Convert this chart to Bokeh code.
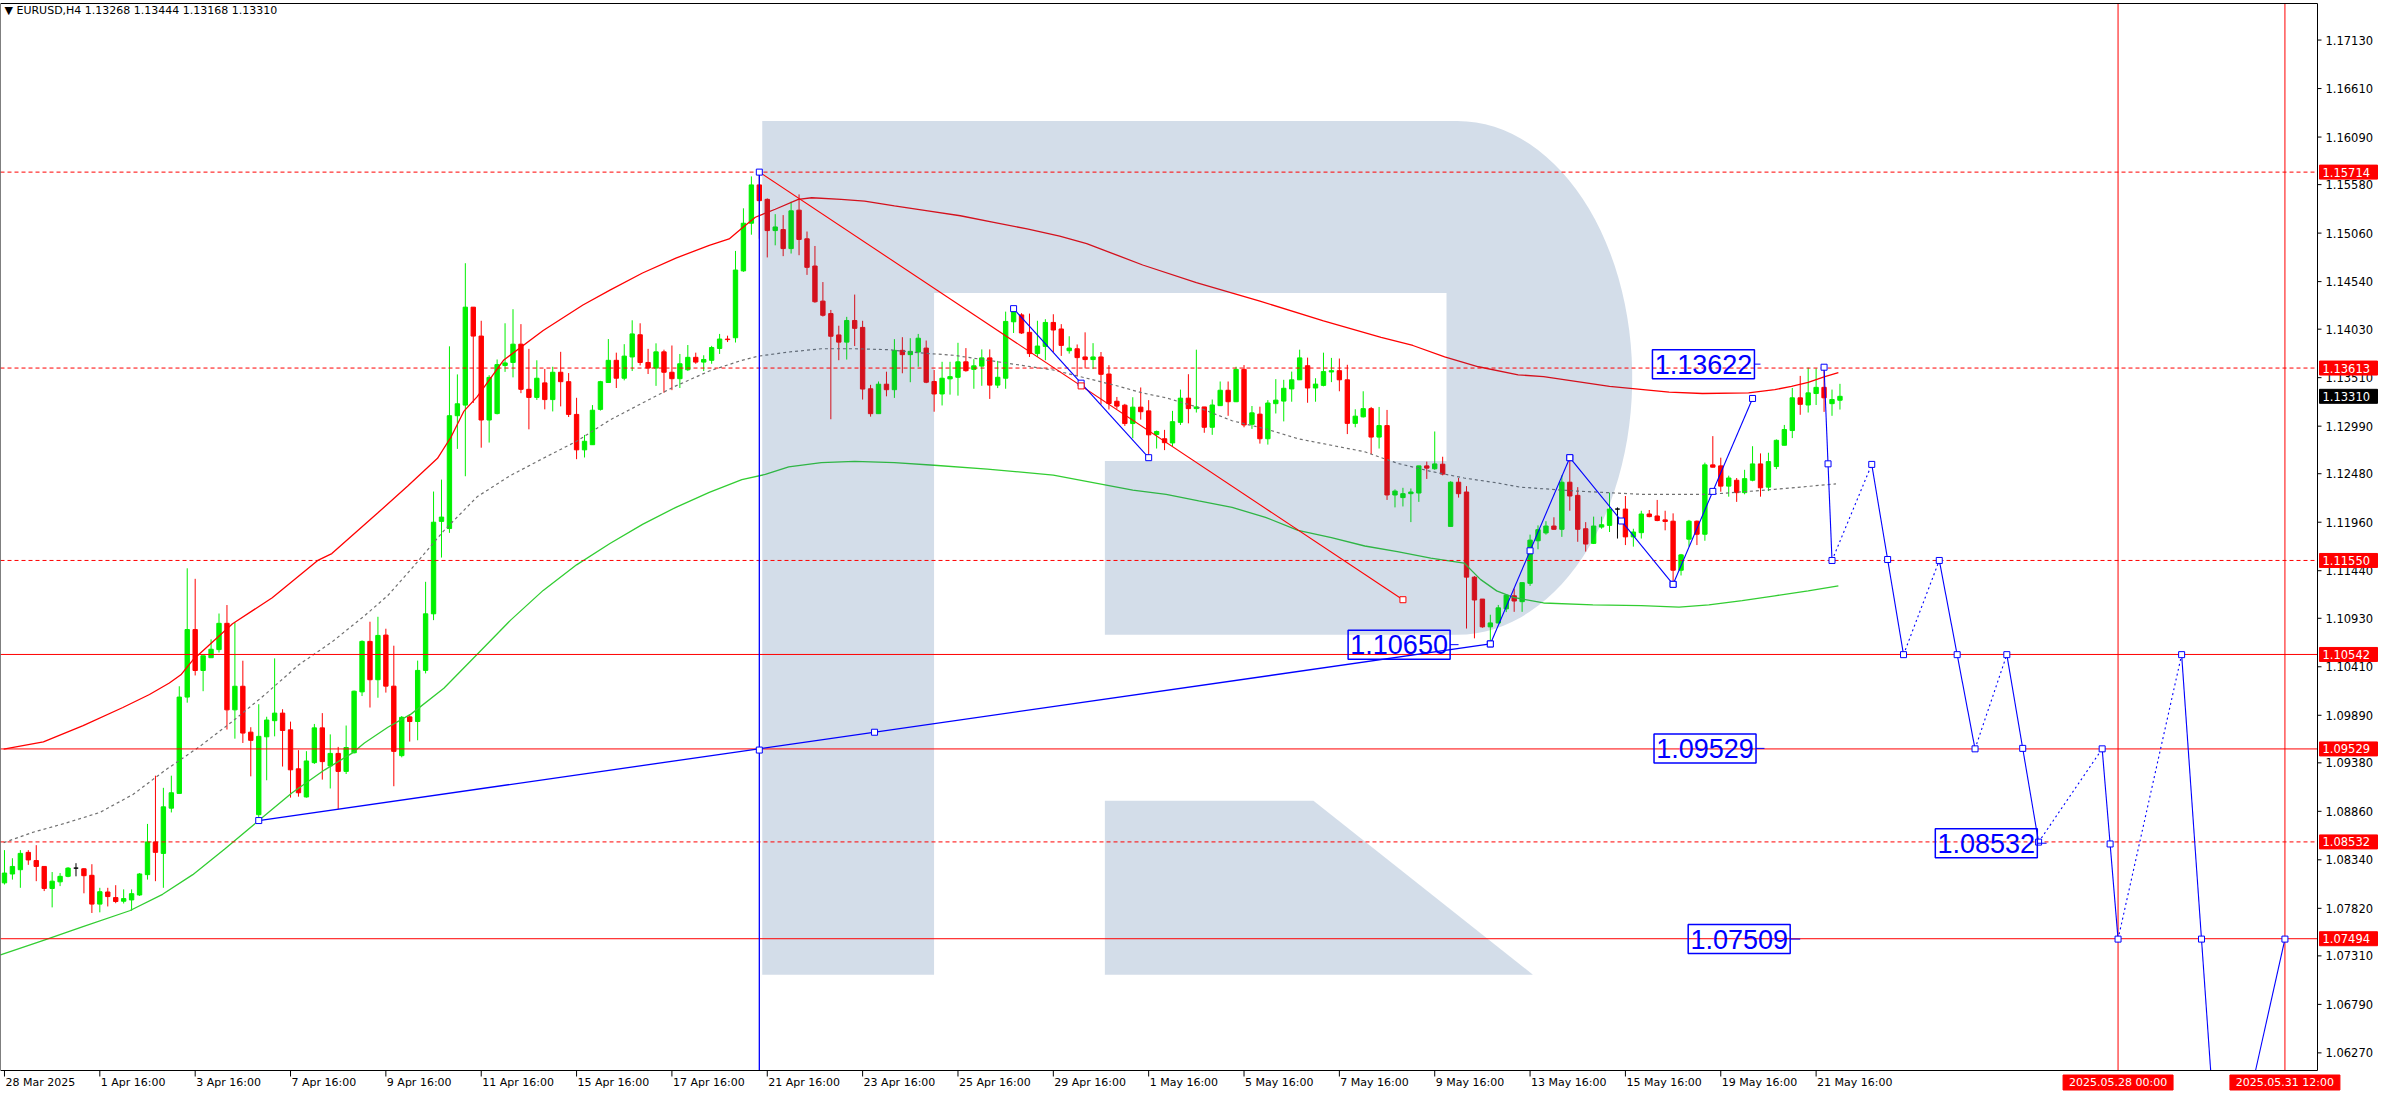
import numpy as np
from bokeh.plotting import figure
from bokeh.models import Range1d, ColumnDataSource
from bokeh.core.properties import value
from bokeh.embed import file_html
from bokeh.resources import INLINE

# ---------------- data (EURUSD H4) ----------------
bar_open = [1.08093,1.08188,1.08234,1.08420,1.08332,1.08269,1.08033,1.08104,1.08163,1.08251,
1.08244,1.08174,1.07865,1.07995,1.07935,1.07896,1.07910,1.07963,1.08181,1.08532,
1.08409,1.08894,1.09052,1.10085,1.10809,1.10370,1.10507,1.10594,1.10876,1.09948,
1.10201,1.09709,1.08824,1.09659,1.09832,1.09913,1.09734,1.09316,1.09014,1.09382,
1.09755,1.09347,1.09481,1.09288,1.09488,1.10141,1.10682,1.10271,1.10750,1.10202,
1.09457,1.09873,1.09823,1.10371,1.10978,1.11969,1.11892,1.13102,1.13216,1.14266,
1.13956,1.13056,1.13125,1.13641,1.13673,1.13869,1.13385,1.13298,1.13454,1.13275,
1.13568,1.13467,1.13116,1.12736,1.12791,1.13170,1.13458,1.13696,1.13504,1.13732,
1.13970,1.13673,1.13613,1.13787,1.13568,1.13499,1.13595,1.13728,1.13677,1.13696,
1.13823,1.13924,1.13938,1.14655,1.15166,1.15577,1.15422,1.15087,1.15098,1.14894,
1.15306,1.14999,1.14707,1.14331,1.14197,1.13968,1.13891,1.14123,1.14049,1.13391,
1.13124,1.13440,1.13381,1.13803,1.13757,1.13785,1.13827,1.13469,1.13335,1.13497,
1.13514,1.13680,1.13599,1.13634,1.13722,1.13430,1.13504,1.14109,1.14183,1.13996,
1.13768,1.13845,1.14102,1.14032,1.13799,1.13820,1.13732,1.13704,1.13732,1.13549,
1.13257,1.13215,1.13018,1.13194,1.13154,1.12901,1.12855,1.12810,1.13031,1.13290,
1.13178,1.13196,1.12978,1.13210,1.13375,1.13252,1.13599,1.13010,1.13119,1.12855,
1.13231,1.13259,1.13389,1.13487,1.13638,1.13399,1.13427,1.13571,1.13585,1.13487,
1.13020,1.13090,1.13178,1.12873,1.12996,1.12252,1.12224,1.12266,1.12273,1.12564,
1.12533,1.12582,1.11915,1.12389,1.12284,1.11371,1.11136,1.10838,1.10880,1.11031,
1.11171,1.11108,1.11305,1.11761,1.11845,1.11919,1.11884,1.12389,1.12248,1.11890,
1.11733,1.11908,1.11926,1.12101,1.12101,1.11803,1.11848,1.12048,1.12027,1.11985,
1.11971,1.11445,1.11778,1.11971,1.11831,1.12575,1.12564,1.12347,1.12410,1.12277,
1.12410,1.12585,1.12336,1.12557,1.12785,1.12943,1.13294,1.13217,1.13340,1.13406,
1.13231,1.13268]
bar_high = [1.08444,1.08357,1.08444,1.08444,1.08497,1.08269,1.08209,1.08198,1.08262,1.08304,
1.08251,1.08293,1.08040,1.08040,1.08068,1.08023,1.08023,1.08198,1.08725,1.09242,
1.09112,1.09242,1.10201,1.11466,1.11353,1.10528,1.10704,1.10981,1.11072,1.10886,
1.10475,1.09762,1.10008,1.09874,1.10500,1.09955,1.09822,1.09516,1.09505,1.09797,
1.09913,1.09685,1.09551,1.09780,1.10155,1.10693,1.10893,1.10946,1.10818,1.10636,
1.09882,1.09896,1.10476,1.11321,1.12289,1.12417,1.13846,1.13545,1.14737,1.14266,
1.14120,1.13536,1.13705,1.14093,1.14244,1.14084,1.13819,1.13696,1.13604,1.13627,
1.13787,1.13559,1.13294,1.12896,1.13216,1.13476,1.13924,1.13778,1.13869,1.14125,
1.14093,1.13819,1.13878,1.13810,1.13855,1.13764,1.13860,1.13778,1.13750,1.13851,
1.13979,1.13960,1.14869,1.15326,1.15668,1.15714,1.15432,1.15263,1.15253,1.15397,
1.15475,1.15077,1.14922,1.14535,1.14236,1.14067,1.14162,1.14401,1.14120,1.13433,
1.13469,1.13574,1.13923,1.13944,1.13933,1.13979,1.13908,1.13592,1.13680,1.13680,
1.13884,1.13827,1.13708,1.13813,1.13813,1.13690,1.14218,1.14250,1.14201,1.14197,
1.14120,1.14137,1.14190,1.14084,1.13954,1.13866,1.13996,1.13880,1.13785,1.13644,
1.13303,1.13229,1.13300,1.13405,1.13269,1.12943,1.12950,1.13154,1.13382,1.13547,
1.13810,1.13196,1.13276,1.13469,1.13469,1.13627,1.13645,1.13206,1.13199,1.13269,
1.13494,1.13487,1.13575,1.13810,1.13725,1.13504,1.13778,1.13722,1.13715,1.13648,
1.13171,1.13364,1.13196,1.13196,1.13164,1.12312,1.12329,1.12322,1.12564,1.12610,
1.12933,1.12662,1.12399,1.12434,1.12347,1.11382,1.11136,1.10968,1.11073,1.11182,
1.11249,1.11312,1.11827,1.11926,1.11971,1.12013,1.12462,1.12652,1.12336,1.11961,
1.12020,1.12020,1.12277,1.12119,1.12241,1.11890,1.12083,1.12091,1.12199,1.12083,
1.12055,1.11620,1.11985,1.11978,1.12599,1.12883,1.12652,1.12459,1.12434,1.12522,
1.12775,1.12698,1.12705,1.12848,1.13003,1.13399,1.13529,1.13617,1.13610,1.13622,
1.13382,1.13444]
bar_low = [1.08075,1.08128,1.08040,1.08286,1.08111,1.08005,1.07830,1.08058,1.08153,1.08163,
1.07981,1.07770,1.07777,1.07840,1.07875,1.07872,1.07794,1.07953,1.08128,1.08111,
1.08040,1.08848,1.09052,1.10025,1.10317,1.10148,1.10507,1.10563,1.09737,1.09639,
1.09593,1.09235,1.08761,1.09193,1.09664,1.09340,1.09007,1.09017,1.09007,1.09368,
1.09200,1.09105,1.08884,1.09260,1.09481,1.10096,1.09973,1.10078,1.10133,1.09129,
1.09439,1.09608,1.09622,1.10339,1.10910,1.11581,1.11846,1.12746,1.12453,1.13239,
1.12759,1.12814,1.13116,1.13572,1.13513,1.13344,1.12956,1.13271,1.13170,1.13148,
1.13202,1.13088,1.12636,1.12654,1.12791,1.13157,1.13458,1.13399,1.13481,1.13581,
1.13641,1.13549,1.13422,1.13348,1.13376,1.13399,1.13581,1.13659,1.13581,1.13659,
1.13764,1.13892,1.13887,1.14645,1.15043,1.15000,1.14799,1.14929,1.14813,1.14841,
1.14823,1.14612,1.14313,1.14165,1.13064,1.13697,1.13704,1.13849,1.13275,1.13092,
1.13124,1.13310,1.13293,1.13557,1.13461,1.13627,1.13451,1.13145,1.13212,1.13328,
1.13317,1.13574,1.13391,1.13423,1.13282,1.13398,1.13391,1.13989,1.13979,1.13732,
1.13732,1.13697,1.13785,1.13743,1.13768,1.13528,1.13609,1.13602,1.13222,1.13169,
1.13176,1.12993,1.12860,1.13060,1.12652,1.12750,1.12733,1.12775,1.13003,1.13020,
1.13136,1.12919,1.12897,1.13206,1.13101,1.13248,1.12978,1.12961,1.12803,1.12792,
1.13126,1.13041,1.13252,1.13487,1.13241,1.13252,1.13417,1.13462,1.13364,1.12905,
1.12978,1.13083,1.12690,1.12750,1.12199,1.12119,1.12129,1.11961,1.12178,1.12424,
1.12522,1.12462,1.11915,1.12224,1.10820,1.10715,1.10828,1.10655,1.10873,1.10996,
1.10999,1.10999,1.11277,1.11670,1.11827,1.11880,1.11803,1.12083,1.11750,1.11645,
1.11726,1.11890,1.11855,1.11785,1.11715,1.11698,1.11785,1.12013,1.11971,1.11873,
1.11329,1.11389,1.11698,1.11715,1.11761,1.12547,1.12287,1.12234,1.12178,1.12259,
1.12399,1.12234,1.12294,1.12529,1.12785,1.12862,1.13112,1.13136,1.13217,1.13143,
1.13101,1.13168]
bar_close = [1.08198,1.08269,1.08409,1.08339,1.08269,1.08033,1.08111,1.08163,1.08251,1.08251,
1.08170,1.07865,1.07998,1.07946,1.07893,1.07924,1.07977,1.08188,1.08532,1.08420,
1.08908,1.09059,1.10085,1.10809,1.10370,1.10528,1.10598,1.10876,1.09948,1.10201,
1.09699,1.09621,1.09664,1.09839,1.09913,1.09727,1.09305,1.09059,1.09400,1.09755,
1.09393,1.09481,1.09288,1.09544,1.10148,1.10682,1.10271,1.10746,1.10202,1.09503,
1.09868,1.09823,1.10371,1.10978,1.11960,1.12015,1.13102,1.13230,1.14266,1.13956,
1.13056,1.13513,1.13650,1.13668,1.13869,1.13385,1.13298,1.13504,1.13275,1.13568,
1.13467,1.13116,1.12736,1.12828,1.13161,1.13467,1.13696,1.13504,1.13741,1.13979,
1.13673,1.13613,1.13787,1.13568,1.13499,1.13659,1.13728,1.13677,1.13705,1.13833,
1.13924,1.13918,1.14664,1.15166,1.15577,1.15408,1.15087,1.15126,1.14894,1.15299,
1.14992,1.14693,1.14324,1.14179,1.13954,1.13891,1.14123,1.14039,1.13388,1.13124,
1.13440,1.13381,1.13803,1.13757,1.13792,1.13933,1.13461,1.13335,1.13504,1.13521,
1.13680,1.13585,1.13637,1.13722,1.13430,1.13514,1.14113,1.14232,1.13989,1.13768,
1.13849,1.14102,1.14021,1.13856,1.13827,1.13725,1.13704,1.13732,1.13546,1.13233,
1.13205,1.13018,1.13194,1.13145,1.12897,1.12933,1.12813,1.13038,1.13290,1.13178,
1.13196,1.12978,1.13217,1.13375,1.13252,1.13599,1.13003,1.13133,1.12855,1.13238,
1.13269,1.13396,1.13487,1.13722,1.13399,1.13441,1.13575,1.13585,1.13487,1.13020,
1.13097,1.13178,1.12873,1.12996,1.12252,1.12294,1.12266,1.12284,1.12564,1.12540,
1.12585,1.12476,1.12389,1.12266,1.11371,1.11126,1.10838,1.10880,1.11042,1.11178,
1.11115,1.11312,1.11768,1.11880,1.11919,1.11884,1.12389,1.12241,1.11884,1.11726,
1.11919,1.11933,1.12101,1.12101,1.11803,1.11855,1.12048,1.12020,1.11978,1.11968,
1.11445,1.11610,1.11971,1.11831,1.12575,1.12550,1.12347,1.12434,1.12277,1.12427,
1.12585,1.12329,1.12610,1.12838,1.12954,1.13294,1.13224,1.13347,1.13406,1.13294,
1.13276,1.13310]

time_labels = ["28 Mar 2025", "1 Apr 16:00", "3 Apr 16:00", "7 Apr 16:00", "9 Apr 16:00",
               "11 Apr 16:00", "15 Apr 16:00", "17 Apr 16:00", "21 Apr 16:00", "23 Apr 16:00",
               "25 Apr 16:00", "29 Apr 16:00", "1 May 16:00", "5 May 16:00", "7 May 16:00",
               "9 May 16:00", "13 May 16:00", "15 May 16:00", "19 May 16:00", "21 May 16:00"]
time_label_bars = [12 * k for k in range(len(time_labels))]

price_ticks = [1.17130, 1.16610, 1.16090, 1.15580, 1.15060, 1.14540, 1.14030, 1.13510,
               1.12990, 1.12480, 1.11960, 1.11440, 1.10930, 1.10410, 1.09890, 1.09380,
               1.08860, 1.08340, 1.07820, 1.07310, 1.06790, 1.06270]

# indicator lines
red_ma_x = [-0.1,4.9,9.9,14.9,18.25,20.75,22.2,23.7,28.7,33.7,39.5,41.2,47,50.75,54.5,56.2,57.8,59.5,
            62.8,67.8,72.8,76.2,80.3,84.5,88.7,91.2,92.8,94.5,97,99.9,101.6,105.3,108.25,112,116.2,
            120.3,124.5,128.7,132.8,136.2,139.5,143.25,150,158,166,173.25,177.25,181.25,185.5,190.5,
            193.7,202,209.5,213.7,219.5,222.8,224.9,227,229.1,230.8]
red_ma_y = [1.09527,1.09604,1.09779,1.09973,1.10113,1.10236,1.10324,1.10482,1.10871,1.11150,1.11554,
            1.11624,1.12061,1.12348,1.12645,1.12874,1.13148,1.13307,1.13696,1.14015,1.14289,1.14449,
            1.14632,1.14792,1.14929,1.14997,1.15111,1.15230,1.15316,1.15422,1.15439,1.15422,1.15404,
            1.15351,1.15299,1.15246,1.15175,1.15105,1.15027,1.14947,1.14841,1.14718,1.1453,1.1433,
            1.1412,1.13943,1.13855,1.13733,1.13627,1.13540,1.13522,1.13417,1.13354,1.13340,1.13347,
            1.13382,1.13417,1.13459,1.13522,1.13564]
mid_ma_x = [-0.1,3.7,7.8,12,16.2,20.3,24.5,28.7,32.8,37,41.2,45.3,48.25,51.2,55.3,59.5,63.7,67.8,72,
            76.2,80.3,84.5,88.7,92.8,94.9,98.7,102.8,107,111.2,115.3,119.5,123.7,127.8,132,136.2,
            140.3,143.25,146.2,150.3,154.5,158.7,162.8,167,171.2,175.3,179.5,183.7,187.8,190.75,
            197.8,206,214.5,222.8,230.5]
mid_ma_y = [1.08525,1.08638,1.08736,1.08848,1.09042,1.09305,1.09551,1.09825,1.10113,1.10429,1.10675,
            1.10956,1.11174,1.11458,1.11869,1.12234,1.12462,1.12645,1.12828,1.13056,1.13239,1.13422,
            1.13581,1.13696,1.13741,1.13785,1.13820,1.13820,1.13810,1.13775,1.13750,1.13697,1.13645,
            1.13592,1.13504,1.13416,1.13345,1.13294,1.13189,1.13048,1.12961,1.12855,1.12785,1.12715,
            1.12592,1.12505,1.12434,1.12382,1.12336,1.12294,1.12259,1.12259,1.12312,1.12371]
green_ma_x = [-0.5,5,9.7,15.75,19.9,23.7,27.8,32,36.2,40.3,43.7,45.3,48.25,51.2,55.3,59.5,63.7,67.8,
              72,76.2,80.3,84.5,88.7,92.8,95.75,98.7,102.8,107,112,117,123.7,132,142,146.2,150.3,
              154.5,158.7,162.8,167,171.2,175.3,179.5,183.7,185.75,187.8,189.9,193.7,199.9,206,
              210.75,214.5,218.7,222.8,227,230.8]
green_ma_y = [1.0732,1.0748,1.07619,1.07794,1.07970,1.08181,1.08462,1.08761,1.09059,1.09305,1.09481,
              1.09593,1.09762,1.09905,1.10179,1.10544,1.10910,1.11229,1.11503,1.11732,1.11937,
              1.12120,1.12280,1.12417,1.12472,1.12554,1.12599,1.12613,1.12599,1.12571,1.12529,
              1.12466,1.12305,1.12259,1.12189,1.12119,1.12013,1.11873,1.11796,1.11705,1.11645,
              1.11575,1.11522,1.11347,1.11224,1.11154,1.11094,1.11073,1.11066,1.11049,1.11073,
              1.11119,1.11171,1.11224,1.11277]

# horizontal levels
levels_dashed = [1.15714, 1.13613, 1.11550, 1.08532]
levels_solid = [1.10542, 1.09529, 1.07494]
last_price = 1.13310

# drawn trend lines (bar index, price)
blue_trend_x, blue_trend_y = [32, 187], [1.08761, 1.10655]
red_trend_x, red_trend_y = [95, 176], [1.15714, 1.11129]
blue_vert_x, blue_vert_y = [95, 95], [1.15714, 1.03320]
blue_short_x, blue_short_y = [127, 144], [1.14250, 1.12652]
old_path_x = [187, 197, 210, 220]
old_path_y = [1.10655, 1.12652, 1.11294, 1.13287]

# forecast path
fc_x = [229, 230, 235, 239, 243.5, 248, 252, 256, 264, 266, 274, 279, 287]
fc_y = [1.13622, 1.1155, 1.1258, 1.1054, 1.1155, 1.0953, 1.1054, 1.0853, 1.0953, 1.0749, 1.1054, 1.0444, 1.0749]
fc_solid = [True, False, True, False, True, False, True, False, True, False, True, True]

# price tags on chart
tag_text = ["1.13622", "1.10650", "1.09529", "1.08532", "1.07509"]
tag_left = [207.4, 169.1, 207.6, 243.0, 211.9]
tag_y = [1.13655, 1.10647, 1.09535, 1.08518, 1.07490]
tag_tip = [221.0, 183.0, 221.5, 257.0, 226.0]

vline_bars = [266, 287]
vline_text = ["2025.05.28 00:00", "2025.05.31 12:00"]

# ---------------- layout ----------------
X0, X1 = -0.5, 291.1          # chart area in bars
Y0, Y1 = 1.06081, 1.17522     # chart area in price
W, H = 2380, 1094
TOP, RIGHT_W, BOTTOM_H = 3, 63, 24
CW = W - RIGHT_W
CH = H - TOP - BOTTOM_H
ppb = CW / (X1 - X0)          # pixels per bar
ppp = (Y1 - Y0) / CH          # price per pixel
def dxp(px):
    return px / ppb
def dyp(px):
    return px * ppp

p = figure(width=W, height=H,
           x_range=Range1d(X0, X1 + dxp(RIGHT_W)),
           y_range=Range1d(Y0 - dyp(BOTTOM_H), Y1 + dyp(TOP)),
           output_backend="svg", toolbar_location=None,
           x_axis_location=None, y_axis_location=None,
           min_border=0, background_fill_color="white", border_fill_color="white")
p.xgrid.visible = False
p.ygrid.visible = False
p.outline_line_color = None

FONT = "DejaVu Sans"
GREEN, RED, BLUE = "#00F000", "#FF0000", "#0000FF"

# candles
idx = list(range(len(bar_open)))
col = [GREEN if c > o else (RED if c < o else "black") for o, c in zip(bar_open, bar_close)]
src = ColumnDataSource(dict(x=idx, h=bar_high, l=bar_low,
                            top=[max(o, c) for o, c in zip(bar_open, bar_close)],
                            bot=[min(o, c) for o, c in zip(bar_open, bar_close)], col=col))
p.segment(x0="x", y0="l", x1="x", y1="h", line_color="col", line_width=1, source=src)
p.vbar(x="x", width=0.55, top="top", bottom="bot", fill_color="col", line_color="col",
       line_width=1, source=src)

# indicator lines
p.line(red_ma_x, red_ma_y, line_color=RED, line_width=1.3)
p.line(mid_ma_x, mid_ma_y, line_color="#707070", line_width=1.2, line_dash="3 3")
p.line(green_ma_x, green_ma_y, line_color="#32CD32", line_width=1.3)

# watermark "R" (proportions of the chart area)
REFW, REFH = 2333.0, 1080.0
def rp(x, y):
    return X0 + x / REFW * (X1 - X0), Y1 - (y - 3) / REFH * (Y1 - Y0)
ang = np.linspace(-np.pi / 2, np.pi / 2, 60)
outer = [(767, 122)] + [(1467 + 176 * np.cos(a), 382 + 260 * np.sin(a)) for a in ang] + \
        [(1112, 642), (1112, 466), (1456, 466), (1456, 296), (940, 296), (940, 986), (767, 986)]
leg = [(1112, 810), (1322, 810), (1543, 986), (1112, 986)]
for poly in (outer, leg):
    xs, ys = zip(*[rp(a, b) for a, b in poly])
    p.patch(list(xs), list(ys), fill_color="#235591", fill_alpha=0.2, line_alpha=0)

# horizontal / vertical levels
p.segment(x0=[X0] * len(levels_dashed), x1=[X1] * len(levels_dashed), y0=levels_dashed, y1=levels_dashed,
          line_color=RED, line_width=1, line_dash="4 3")
p.segment(x0=[X0] * len(levels_solid), x1=[X1] * len(levels_solid), y0=levels_solid, y1=levels_solid,
          line_color=RED, line_width=1)
p.segment(x0=vline_bars, x1=vline_bars, y0=[Y0] * 2, y1=[Y1] * 2, line_color=RED, line_width=1)

# clip a segment to the chart's price span
def clip(xa, ya, xb, yb):
    t0, t1 = 0.0, 1.0
    dyv = yb - ya
    for lim, sgn in ((Y0, 1), (Y1, -1)):
        if dyv == 0:
            continue
        t = (lim - ya) / dyv
        if sgn * dyv > 0:
            t0 = max(t0, t)
        else:
            t1 = min(t1, t)
    if t0 >= t1:
        return None
    return [xa + t0 * (xb - xa), xa + t1 * (xb - xa)], [ya + t0 * dyv, ya + t1 * dyv]

def draw_path(xs, ys, color, width=1.1, dashes=None):
    for k in range(len(xs) - 1):
        c = clip(xs[k], ys[k], xs[k + 1], ys[k + 1])
        if c is None:
            continue
        dash = "solid" if dashes is None or dashes[k] else "2 3"
        p.line(c[0], c[1], line_color=color, line_width=width, line_dash=dash)

draw_path(blue_trend_x, blue_trend_y, BLUE, 1.3)
draw_path(blue_vert_x, blue_vert_y, BLUE, 1.3)
draw_path(red_trend_x, red_trend_y, RED, 1.1)
draw_path(blue_short_x, blue_short_y, BLUE, 1.1)
draw_path(old_path_x, old_path_y, BLUE, 1.1)
draw_path(fc_x, fc_y, BLUE, 1.1, fc_solid)

# selection squares: ends and midpoints of segments
def squares(xs, ys):
    sx, sy = [], []
    for k in range(len(xs) - 1):
        for t in (0.0, 0.5, 1.0):
            yy = ys[k] + t * (ys[k + 1] - ys[k])
            if Y0 <= yy <= Y1:
                sx.append(xs[k] + t * (xs[k + 1] - xs[k]))
                sy.append(yy)
    return sx, sy
bsx, bsy = [], []
for xs, ys in [(blue_trend_x, blue_trend_y), (blue_vert_x, blue_vert_y),
               (blue_short_x, blue_short_y), (old_path_x, old_path_y)]:
    a, b = squares(xs, ys)
    bsx += a
    bsy += b
for k in range(len(fc_x) - 1):
    if fc_solid[k]:
        a, b = squares(fc_x[k:k + 2], fc_y[k:k + 2])
        bsx += a
        bsy += b
p.scatter(bsx, bsy, marker="square", size=6, line_color=BLUE, fill_color="white", line_width=1)
rsx, rsy = squares(red_trend_x, red_trend_y)
p.scatter(rsx[1:], rsy[1:], marker="square", size=6, line_color=RED, fill_color="white", line_width=1)

# on-chart price tags (framed text)
TAG_W, TAG_H = 102, 29
p.rect(x=[xl + dxp(TAG_W / 2) for xl in tag_left], y=tag_y, width=TAG_W, height=TAG_H,
       width_units="screen", height_units="screen", fill_alpha=0, line_color=BLUE, line_width=1.5)
p.text(x=[xl + dxp(TAG_W / 2) for xl in tag_left], y=tag_y, text=tag_text,
       text_font=value("Liberation Sans"), text_font_size=value("27px"), text_color=BLUE,
       text_align="center", text_baseline="middle")
p.segment(x0=[xl + dxp(TAG_W) for xl in tag_left], x1=tag_tip, y0=tag_y, y1=tag_y,
          line_color=BLUE, line_width=1)

# chart border
p.line([X0, X1, X1, X0, X0], [Y0, Y0, Y1, Y1, Y0], line_color="black", line_width=1)

# price scale (right)
p.segment(x0=[X1] * len(price_ticks), x1=[X1 + dxp(4)] * len(price_ticks), y0=price_ticks, y1=price_ticks,
          line_color="black", line_width=1)
p.text(x=[X1 + dxp(8)] * len(price_ticks), y=price_ticks, text=["%.5f" % t for t in price_ticks],
       text_font=value(FONT), text_font_size=value("11.5px"), text_color="black",
       text_align="left", text_baseline="middle")

box_levels = levels_dashed + levels_solid + [last_price]
box_colors = [RED] * (len(levels_dashed) + len(levels_solid)) + ["black"]
p.rect(x=[X1 + dxp(31)] * len(box_levels), y=box_levels, width=58, height=14,
       width_units="screen", height_units="screen", fill_color=box_colors, line_color=box_colors)
p.text(x=[X1 + dxp(5)] * len(box_levels), y=box_levels, text=["%.5f" % v for v in box_levels],
       text_font=value(FONT), text_font_size=value("11.5px"), text_color="white",
       text_align="left", text_baseline="middle")

# time scale (bottom)
p.segment(x0=time_label_bars, x1=time_label_bars, y0=[Y0] * len(time_label_bars),
          y1=[Y0 - dyp(6)] * len(time_label_bars), line_color="black", line_width=1)
p.text(x=[b + dxp(1) for b in time_label_bars], y=[Y0 - dyp(12)] * len(time_label_bars), text=time_labels,
       text_font=value(FONT), text_font_size=value("11px"), text_color="black",
       text_align="left", text_baseline="middle")
p.rect(x=vline_bars, y=[Y0 - dyp(12)] * 2, width=110, height=15, width_units="screen",
       height_units="screen", fill_color=RED, line_color=RED)
p.text(x=vline_bars, y=[Y0 - dyp(12)] * 2, text=vline_text, text_font=value(FONT),
       text_font_size=value("11px"), text_color="white", text_align="center", text_baseline="middle")

# header
p.text(x=[X0 + dxp(4)], y=[Y1 - dyp(7)],
       text=["\u25bc EURUSD,H4  %.5f %.5f %.5f %.5f" % (bar_open[-1], bar_high[-1], bar_low[-1], bar_close[-1])],
       text_font=value(FONT), text_font_size=value("11px"), text_color="black",
       text_align="left", text_baseline="middle")

open("out.html", "w").write(file_html(p, INLINE))
